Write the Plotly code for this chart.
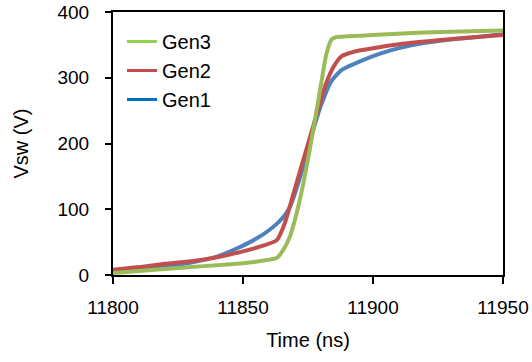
import plotly.graph_objects as go

# Data
t_gen3 = [11800, 11810, 11820, 11830, 11840, 11850, 11858, 11863, 11865, 11868, 11871, 11874, 11877, 11880, 11882, 11884, 11886, 11890, 11900, 11915, 11930, 11950]
v_gen3 = [3, 6, 9, 12, 15, 18, 22, 26, 35, 58, 100, 155, 220, 290, 335, 358, 362, 363, 365, 368, 370, 372]

t_gen2 = [11800, 11810, 11820, 11830, 11840, 11850, 11858, 11863, 11866, 11870, 11874, 11878, 11882, 11885, 11888, 11893, 11900, 11910, 11925, 11940, 11950]
v_gen2 = [8, 12, 17, 21, 27, 36, 45, 53, 78, 132, 186, 240, 292, 318, 333, 340, 345, 351, 357, 362, 365]

t_gen1 = [11800, 11810, 11820, 11830, 11840, 11848, 11855, 11860, 11865, 11868, 11872, 11876, 11880, 11884, 11888, 11895, 11903, 11910, 11920, 11930, 11940, 11950]
v_gen1 = [4, 8, 13, 19, 28, 41, 55, 68, 86, 103, 149, 207, 258, 295, 312, 325, 337, 345, 353, 358, 362, 366]

names = ["Gen3", "Gen2", "Gen1"]
line_colors = ["#9BBB59", "#C0504D", "#4F81BD"]
legend_colors = ["#92D050", "#C0504D", "#0070C0"]

x_ticks = [11800, 11850, 11900, 11950]
x_tick_labels = ["11800", "11850", "11900", "11950"]
y_ticks = [0, 100, 200, 300, 400]
y_tick_labels = ["0", "100", "200", "300", "400"]

fig = go.Figure()
series = [(t_gen1, v_gen1, 2), (t_gen2, v_gen2, 1), (t_gen3, v_gen3, 0)]
for t, v, i in series:
    fig.add_trace(go.Scatter(x=t, y=v, mode="lines", name=names[i], showlegend=False,
                             line=dict(color=line_colors[i], width=4, shape="spline", smoothing=0.5)))
for i in range(3):
    fig.add_trace(go.Scatter(x=[None], y=[None], mode="lines", name=names[i],
                             line=dict(color=legend_colors[i], width=3)))

font_family = "Liberation Sans, Arial, sans-serif"
fig.update_layout(
    width=532, height=362,
    margin=dict(l=113, r=29, t=12, b=87, autoexpand=False),
    paper_bgcolor="white", plot_bgcolor="white",
    font=dict(family=font_family, size=19, color="black"),
    showlegend=True,
    legend=dict(x=0.023, y=0.962, xanchor="left", yanchor="top",
                font=dict(size=20), bgcolor="rgba(0,0,0,0)", traceorder="normal"),
    xaxis=dict(range=[11800, 11950], tickvals=x_ticks, ticktext=x_tick_labels,
               ticks="outside", ticklen=7, automargin=False,
               tickwidth=2, tickcolor="black", showline=True, linecolor="black",
               linewidth=2, mirror=True, showgrid=False, zeroline=False,
               title=dict(text="Time (ns)", font=dict(size=20), standoff=16),
               ticklabelstandoff=7),
    yaxis=dict(range=[0, 400], tickvals=y_ticks, ticktext=y_tick_labels,
               ticks="outside", ticklen=6, automargin=False,
               tickwidth=2, tickcolor="black", showline=True, linecolor="black",
               linewidth=2, mirror=True, showgrid=False, zeroline=False,
               title=dict(text="Vsw (V)", font=dict(size=20), standoff=23),
               ticklabelstandoff=12),
)

fig.write_html("out.html")
